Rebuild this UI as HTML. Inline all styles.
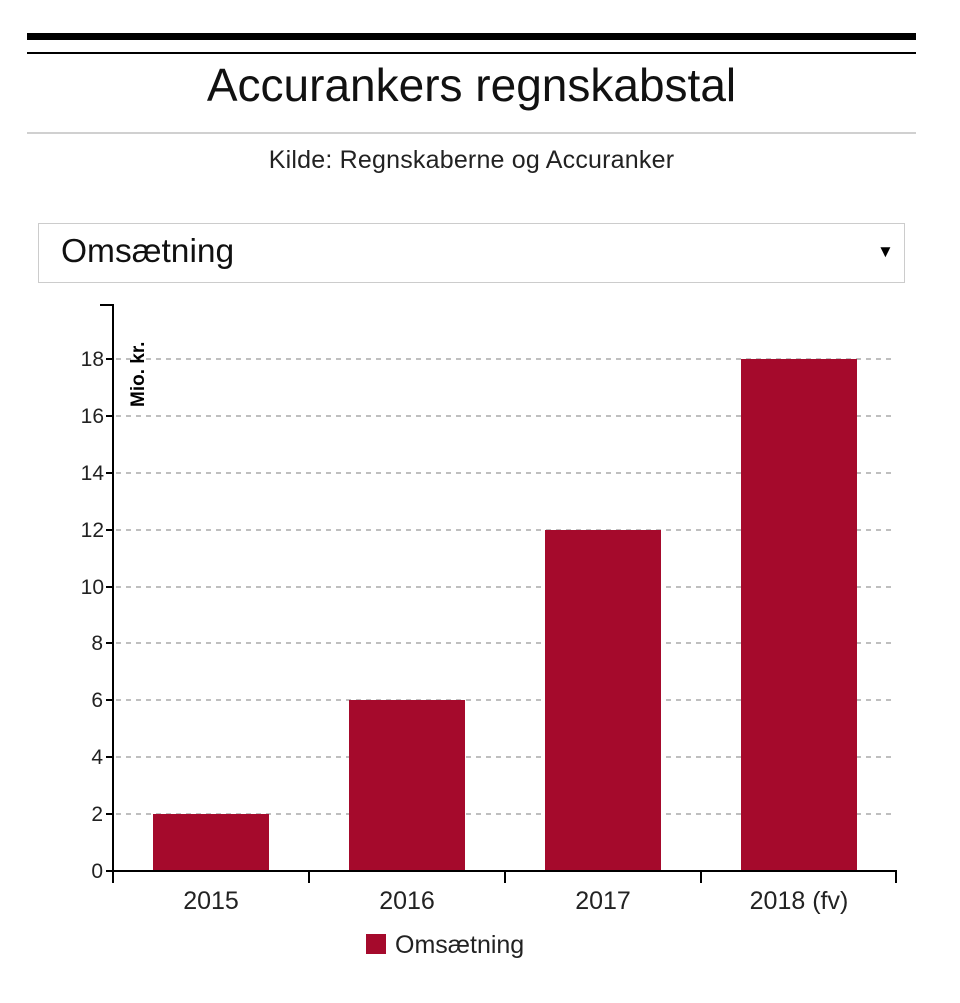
<!DOCTYPE html>
<html><head><meta charset="utf-8"><style>
body{margin:0;width:960px;height:1003px;background:#fff;font-family:"Liberation Sans",Arial,sans-serif;position:relative;overflow:hidden}
.a{position:absolute;line-height:1.15}
</style></head><body>
<div class="a" style="left:27px;top:33px;width:889px;height:7px;background:#000"></div>
<div class="a" style="left:27px;top:52px;width:889px;height:2px;background:#000"></div>
<div class="a" style="left:0;width:943px;top:59px;text-align:center;font-size:46px;color:#111">Accurankers regnskabstal</div>
<div class="a" style="left:27px;top:132px;width:889px;height:2px;background:#d0d0d0"></div>
<div class="a" style="left:0;width:943px;top:146px;text-align:center;font-size:25px;color:#222;letter-spacing:0.2px">Kilde: Regnskaberne og Accuranker</div>
<div class="a" style="left:38px;top:223px;width:865px;height:58px;border:1px solid #ccc"></div>
<div class="a" style="left:61px;top:233px;font-size:33.5px;color:#111">Omsætning</div>
<div class="a" style="left:877px;top:242px;font-size:17px;color:#000">▼</div>
<svg class="a" style="left:0;top:0" width="960" height="1003">
<g stroke="#aaa" stroke-dasharray="5,5" stroke-width="1.5">
<line x1="116" x2="896" y1="814" y2="814"/><line x1="116" x2="896" y1="757" y2="757"/>
<line x1="116" x2="896" y1="700" y2="700"/><line x1="116" x2="896" y1="643" y2="643"/>
<line x1="116" x2="896" y1="587" y2="587"/><line x1="116" x2="896" y1="530" y2="530"/>
<line x1="116" x2="896" y1="473" y2="473"/><line x1="116" x2="896" y1="416" y2="416"/>
<line x1="116" x2="896" y1="359" y2="359"/>
</g>
<g fill="#a50a2c">
<rect x="153" y="814" width="116" height="57"/>
<rect x="349" y="700" width="116" height="171"/>
<rect x="545" y="530" width="116" height="341"/>
<rect x="741" y="359" width="116" height="512"/>
</g>
<g stroke="#000" stroke-width="2" fill="none">
<path d="M100 305H113V871"/>
<path d="M113 883V871H896V883M309 871V883M505 871V883M701 871V883"/>
<path d="M106 871H113M106 814H113M106 757H113M106 700H113M106 643H113M106 587H113M106 530H113M106 473H113M106 416H113M106 359H113"/>
</g>
<g font-size="21" fill="#222" text-anchor="end">
<text x="103" y="878">0</text><text x="103" y="821">2</text><text x="103" y="764">4</text>
<text x="103" y="707">6</text><text x="103" y="650">8</text><text x="104" y="594">10</text>
<text x="104" y="537">12</text><text x="104" y="480">14</text><text x="104" y="423">16</text><text x="104" y="366">18</text>
</g>
<text transform="translate(144,407) rotate(-90)" font-size="19" font-weight="bold">Mio. kr.</text>
<g font-size="25" fill="#222" text-anchor="middle">
<text x="211" y="909">2015</text>
<text x="407" y="909">2016</text>
<text x="603" y="909">2017</text>
<text x="799" y="909">2018 (fv)</text>
</g>
<rect x="366" y="934" width="20" height="20" fill="#a50a2c"/>
<text x="395" y="953" font-size="25" fill="#222">Omsætning</text>
</svg>
</body></html>
